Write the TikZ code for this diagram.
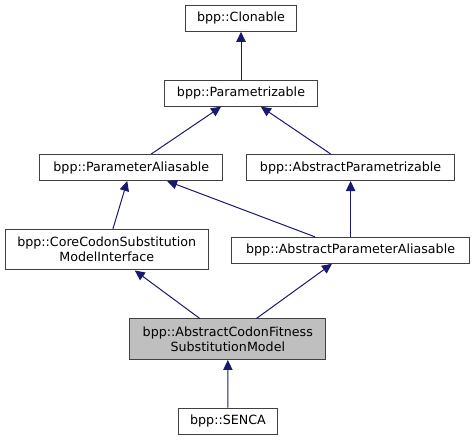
\documentclass[tikz,border=0pt]{standalone}
\usepackage{fontspec}
\setmainfont{DejaVu Sans}
\usetikzlibrary{arrows.meta}

\definecolor{edgeblue}{HTML}{191970}
\definecolor{boxgray}{HTML}{BFBFBF}

\tikzset{
  cls/.style={draw=black!75,line width=.75pt,fill=white,inner sep=0pt,align=center,
    minimum height=19.5pt,font=\fontsize{9.5}{11.3}\selectfont},
  cls2/.style={cls,minimum height=30.4pt},
  inh/.style={draw=edgeblue,line width=.75pt,-{Triangle[length=7.5pt,width=7pt]}}
}

\begin{document}
\begin{tikzpicture}[x=.75pt,y=-.75pt]
\useasboundingbox (0,0) rectangle (474,440);
% classes, placed at pixel positions
\node[cls,minimum width=83pt] (clon) at (241,18.3) {bpp::Clonable};
\node[cls,minimum width=115pt] (parm) at (241,93.2) {bpp::Parametrizable};
\node[cls,minimum width=137pt] (palias) at (131.3,167.5) {bpp::ParameterAliasable};
\node[cls,minimum width=155.5pt] (aparm) at (350.6,167.5) {bpp::AbstractParametrizable};
\node[cls2,minimum width=152.5pt] (core) at (106.7,249.7) {bpp::CoreCodonSubstitution\\ModelInterface};
\node[cls,minimum width=178.3pt] (apalias) at (350.6,250.3) {bpp::AbstractParameterAliasable};
\node[cls2,minimum width=146.8pt,fill=boxgray] (acf) at (227.8,339.2) {bpp::AbstractCodonFitness\\SubstitutionModel};
\node[cls,minimum width=74pt] (senca) at (228,421.2) {bpp::SENCA};
% inheritance
\foreach \a/\b in {parm/clon,palias/parm,aparm/parm,core/palias,apalias/palias,
                   apalias/aparm,acf/core,acf/apalias,senca/acf}
  \draw[inh] (\a) -- (\b);
\end{tikzpicture}
\end{document}
